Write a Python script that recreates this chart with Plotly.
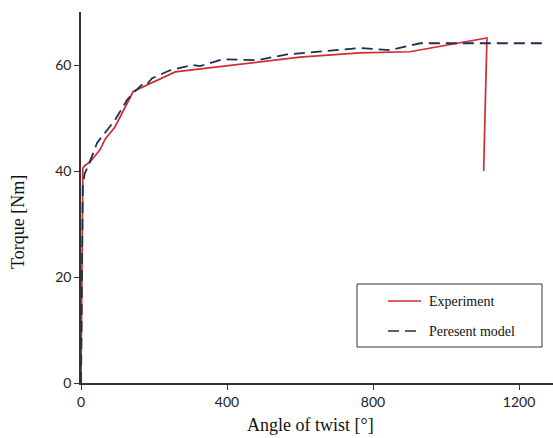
import plotly.graph_objects as go

exp_angle = [0, 3, 5, 10, 25, 52, 66, 93, 143, 258, 490, 600, 764, 901, 1112, 1103]
exp_torque = [0, 20, 40.5, 41, 41.7, 44, 46, 48.3, 55, 58.7, 60.6, 61.5, 62.3, 62.5, 65.1, 40]

mod_angle = [0, 3, 5, 10, 20, 44, 93, 126, 143, 170, 180, 195, 244, 304, 326, 389, 482, 564, 600, 764, 846, 929, 1000, 1266]
mod_torque = [0, 20, 37, 39.5, 41, 45.3, 49.6, 53.4, 54.7, 56.5, 56.3, 57.5, 59, 60, 59.8, 61.1, 60.9, 62, 62.2, 63.2, 62.8, 64.1, 64.1, 64.1]

x_ticks = [0, 400, 800, 1200]
y_ticks = [0, 20, 40, 60]

series_names = ["Experiment", "Peresent model"]
series_colors = ["#d42a33", "#1c2e52"]
series_dash = ["solid", "11px,6px"]

fig = go.Figure()
fig.add_trace(go.Scatter(x=exp_angle, y=exp_torque, mode="lines", name=series_names[0],
                         line=dict(color=series_colors[0], width=1.7, dash=series_dash[0])))
fig.add_trace(go.Scatter(x=mod_angle, y=mod_torque, mode="lines", name=series_names[1],
                         line=dict(color=series_colors[1], width=1.8, dash=series_dash[1])))

# plot area in pixels: left 81, right 553, top 12, bottom 383
PL, PR, PT, PB = 81, 553, 12, 383
def px(x):
    return (x - PL) / (PR - PL)
def py(y):
    return (PB - y) / (PB - PT)

shapes = [
    dict(type="rect", xref="paper", yref="paper", x0=px(357), x1=px(542), y0=py(347), y1=py(284),
         line=dict(color="#333", width=1), fillcolor="white", layer="above"),
]
annotations = [
    dict(text="Angle of twist [°]", xref="paper", yref="paper", x=px(310), y=py(425),
         xanchor="center", yanchor="middle", showarrow=False,
         font=dict(family="Liberation Serif, serif", size=18, color="#111")),
    dict(text="Torque [Nm]", xref="paper", yref="paper", x=px(18), y=py(222),
         xanchor="center", yanchor="middle", showarrow=False, textangle=-90,
         font=dict(family="Liberation Serif, serif", size=18, color="#111")),
]
legend_rows = [301, 331]
for name, color, dash, row in zip(series_names, series_colors, series_dash, legend_rows):
    shapes.append(dict(type="line", xref="paper", yref="paper", x0=px(388), x1=px(421),
                       y0=py(row), y1=py(row), layer="above",
                       line=dict(color=color, width=1.7, dash=dash)))
    annotations.append(dict(text=name, xref="paper", yref="paper", x=px(427), y=py(row),
                            xanchor="left", yanchor="middle", showarrow=False,
                            font=dict(family="Liberation Serif, serif", size=14, color="#111")))

axis_font = dict(family="Lato, Open Sans, sans-serif", size=14, color="#222")
fig.update_layout(
    width=553, height=438,
    margin=dict(l=PL, r=553 - PR, t=PT, b=438 - PB),
    plot_bgcolor="white", paper_bgcolor="white",
    showlegend=False,
    xaxis=dict(range=[0, 1293], tickvals=x_ticks, showgrid=False, zeroline=False,
               showline=True, linecolor="#333", linewidth=1.5,
               ticks="outside", ticklen=5, tickcolor="#333",
               tickfont=axis_font),
    yaxis=dict(range=[0, 70], tickvals=y_ticks, showgrid=False, zeroline=False,
               showline=True, linecolor="#333", linewidth=1.5,
               ticks="outside", ticklen=5, tickcolor="#333",
               tickfont=axis_font),
    shapes=shapes,
    annotations=annotations,
)
fig.write_html("out.html", post_script="document.body.style.margin='0';",
               config={"displayModeBar": False})
